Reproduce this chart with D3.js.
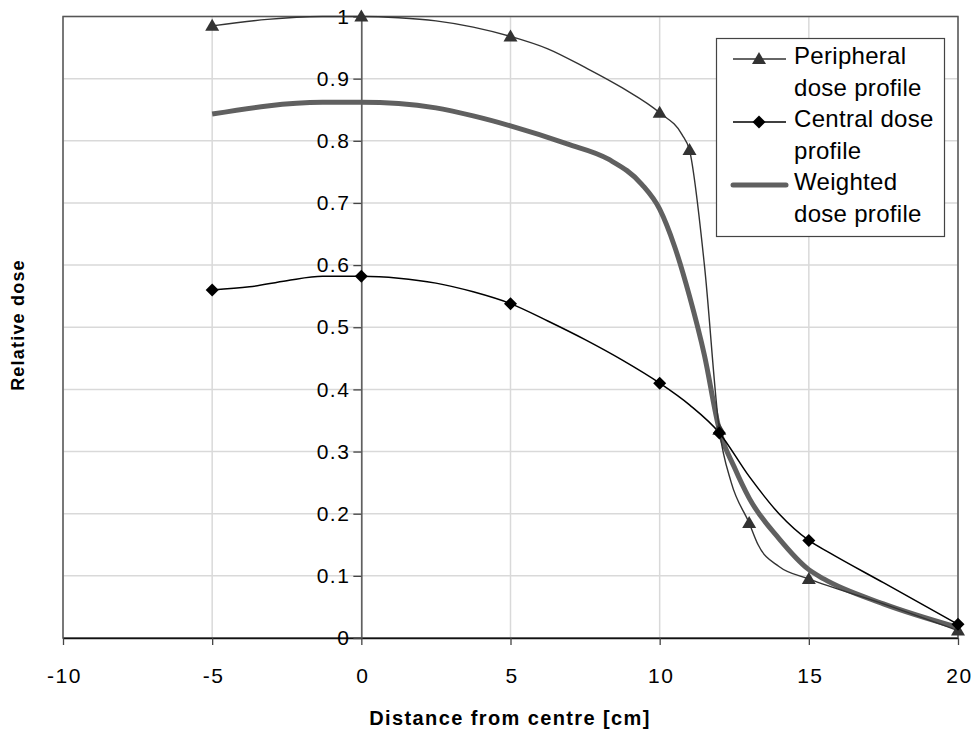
<!DOCTYPE html>
<html lang="en">
  <head>
    <meta charset="UTF-8" />
    <title>Dose profiles</title>
    <script src="https://cdn.jsdelivr.net/npm/d3@7/dist/d3.min.js"></script>
    <style>
      body { margin: 0; background: #fff; }
      text { font-family: "Liberation Sans", Arial, sans-serif; }
    </style>
  </head>
  <body>
    <script>
      // values
      const xTicks = [-10, -5, 0, 5, 10, 15, 20];
      const yTicks = [0, 0.1, 0.2, 0.3, 0.4, 0.5, 0.6, 0.7, 0.8, 0.9, 1];

      const peripheralX = [-5, -1.3, 0, 1.25, 2.5, 3.75, 5, 6.25, 7.5, 8.75, 10, 10.75, 11, 11.5, 12, 12.4, 13, 13.3, 14, 15, 17.5, 20];
      const peripheralY = [0.985, 1.0, 1.0, 0.998, 0.993, 0.983, 0.968, 0.948, 0.918, 0.885, 0.845, 0.81, 0.785, 0.6, 0.335, 0.25, 0.185, 0.15, 0.115, 0.095, 0.055, 0.012];
      const peripheralMarkX = [-5, 0, 5, 10, 11, 12, 13, 15, 20];

      const centralX = [-5, -3.75, -2.5, -1.3, 0, 1.25, 2.5, 3.75, 5, 6.25, 7.5, 8.75, 10, 11, 12, 13, 14, 15, 15.7, 17.5, 20];
      const centralY = [0.56, 0.565, 0.575, 0.582, 0.582, 0.579, 0.571, 0.557, 0.538, 0.51, 0.48, 0.447, 0.41, 0.375, 0.33, 0.26, 0.2, 0.157, 0.137, 0.089, 0.022];
      const centralMarkX = [-5, 0, 5, 10, 12, 15, 20];

      const weightedX = [-5, -1.3, 0, 1.25, 2.5, 3.75, 5, 6.9, 8.3, 9.4, 10, 10.5, 11, 11.5, 12, 12.5, 13, 14, 15, 15.5, 17.5, 20];
      const weightedY = [0.843, 0.862, 0.862, 0.86, 0.853, 0.84, 0.824, 0.795, 0.77, 0.73, 0.69, 0.63, 0.55, 0.455, 0.335, 0.275, 0.225, 0.16, 0.11, 0.095, 0.055, 0.017];

      const legendLabels = [
        ["Peripheral", "dose profile"],
        ["Central dose", "profile"],
        ["Weighted", "dose profile"],
      ];

      const width = 973;
      const height = 732;
      const margin = { top: 16.5, right: 15, bottom: 94, left: 63 };

      const svg = d3
        .select("body")
        .append("svg")
        .attr("width", width)
        .attr("height", height);

      const x = d3
        .scaleLinear()
        .domain([-10, 20])
        .range([margin.left, width - margin.right]);
      const y = d3
        .scaleLinear()
        .domain([0, 1])
        .range([height - margin.bottom, margin.top]);

      // grid
      svg
        .append("g")
        .selectAll("line")
        .data(yTicks)
        .enter()
        .append("line")
        .attr("x1", x(-10))
        .attr("x2", x(20))
        .attr("y1", (d) => y(d))
        .attr("y2", (d) => y(d))
        .attr("stroke", "#d9d9d9")
        .attr("stroke-width", 1.5);
      svg
        .append("g")
        .selectAll("line")
        .data(xTicks)
        .enter()
        .append("line")
        .attr("x1", (d) => x(d))
        .attr("x2", (d) => x(d))
        .attr("y1", y(0))
        .attr("y2", y(1))
        .attr("stroke", "#d9d9d9")
        .attr("stroke-width", 1.5);

      // frame
      svg
        .append("rect")
        .attr("x", x(-10))
        .attr("y", y(1))
        .attr("width", x(20) - x(-10))
        .attr("height", y(0) - y(1))
        .attr("fill", "none")
        .attr("stroke", "#555")
        .attr("stroke-width", 1.5);

      // axes
      const xAxis = svg
        .append("g")
        .attr("transform", `translate(0,${y(0)})`)
        .call(
          d3
            .axisBottom(x)
            .tickValues(xTicks)
            .tickFormat((d) => String(d))
            .tickSize(7)
            .tickPadding(23)
            .tickSizeOuter(0)
        );
      const yAxis = svg
        .append("g")
        .attr("transform", `translate(${x(0)},0)`)
        .call(
          d3
            .axisLeft(y)
            .tickValues(yTicks)
            .tickFormat((d) => String(d))
            .tickSize(8)
            .tickPadding(3)
            .tickSizeOuter(0)
        );
      xAxis.select(".domain").attr("stroke", "#111").attr("stroke-width", 1.5);
      yAxis.select(".domain").attr("stroke", "#555").attr("stroke-width", 1.5);
      svg.selectAll(".tick line").attr("stroke", "#444").attr("stroke-width", 1.3);
      svg
        .selectAll(".tick text")
        .attr("font-size", 21)
        .attr("letter-spacing", 1.5)
        .attr("fill", "#000")
        .style("font-family", '"Liberation Sans", Arial, sans-serif');
      xAxis.selectAll(".tick text").attr("dx", 1);

      // lines
      const line = d3
        .line()
        .x((d) => x(d[0]))
        .y((d) => y(d[1]))
        .curve(d3.curveMonotoneX);

      svg
        .append("path")
        .datum(d3.zip(weightedX, weightedY))
        .attr("fill", "none")
        .attr("stroke", "#606060")
        .attr("stroke-width", 5)
        .attr("stroke-linejoin", "round")
        .attr("d", line);
      svg
        .append("path")
        .datum(d3.zip(centralX, centralY))
        .attr("fill", "none")
        .attr("stroke", "#000")
        .attr("stroke-width", 1.5)
        .attr("d", line);
      svg
        .append("path")
        .datum(d3.zip(peripheralX, peripheralY))
        .attr("fill", "none")
        .attr("stroke", "#333")
        .attr("stroke-width", 1.4)
        .attr("d", line);

      const tri = "M0,-7L7,5L-7,5Z";
      const dia = "M0,-6.5L6.5,0L0,6.5L-6.5,0Z";
      const valueAt = (xs, ys, v) => ys[xs.indexOf(v)];

      svg
        .append("g")
        .selectAll("path")
        .data(peripheralMarkX)
        .enter()
        .append("path")
        .attr("d", tri)
        .attr("fill", "#333")
        .attr("transform", (d) => `translate(${x(d)},${y(valueAt(peripheralX, peripheralY, d))})`);
      svg
        .append("g")
        .selectAll("path")
        .data(centralMarkX)
        .enter()
        .append("path")
        .attr("d", dia)
        .attr("fill", "#000")
        .attr("transform", (d) => `translate(${x(d)},${y(valueAt(centralX, centralY, d))})`);

      // axis titles
      svg
        .append("text")
        .attr("x", 510)
        .attr("y", 725)
        .attr("text-anchor", "middle")
        .attr("font-size", 20)
        .attr("font-weight", "bold")
        .attr("letter-spacing", 1.4)
        .text("Distance from centre [cm]");
      svg
        .append("text")
        .attr("transform", "translate(24,325) rotate(-90)")
        .attr("text-anchor", "middle")
        .attr("font-size", 18)
        .attr("font-weight", "bold")
        .attr("letter-spacing", 1.2)
        .text("Relative dose");

      // legend
      const legend = svg.append("g");
      legend
        .append("rect")
        .attr("x", 716.5)
        .attr("y", 38.5)
        .attr("width", 228)
        .attr("height", 198)
        .attr("fill", "#fff")
        .attr("stroke", "#444")
        .attr("stroke-width", 1.2);

      const rows = legend
        .selectAll("g")
        .data(legendLabels)
        .enter()
        .append("g")
        .attr("transform", (d, i) => `translate(0,${i * 63})`);

      rows
        .append("line")
        .attr("x1", 733)
        .attr("x2", 786)
        .attr("y1", 59)
        .attr("y2", 59)
        .attr("stroke", (d, i) => ["#333", "#000", "#606060"][i])
        .attr("stroke-width", (d, i) => [1.4, 1.5, 5][i])
        .attr("stroke-linecap", (d, i) => (i === 2 ? "round" : "butt"));
      rows
        .filter((d, i) => i < 2)
        .append("path")
        .attr("d", (d, i) => (i === 0 ? tri : dia))
        .attr("fill", (d, i) => (i === 0 ? "#333" : "#000"))
        .attr("transform", "translate(759,59)");
      rows
        .selectAll("text")
        .data((d) => d)
        .enter()
        .append("text")
        .attr("x", 794)
        .attr("y", (d, j) => 64 + j * 31.5)
        .attr("font-size", 24)
        .attr("letter-spacing", 0.3)
        .text((d) => d);
    </script>
  </body>
</html>
